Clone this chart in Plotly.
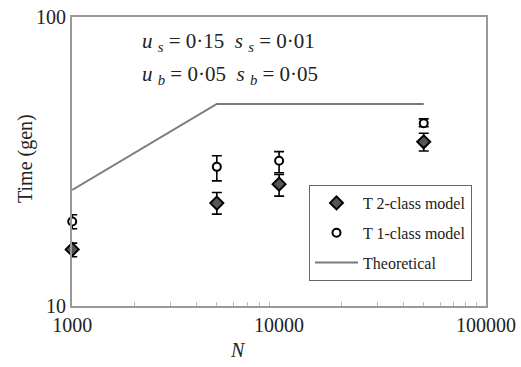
import plotly.graph_objects as go

# population sizes
N_vals = [1000, 5000, 10000, 50000]

# T 2-class model (diamonds)
t2_mean = [15.7, 22.7, 26.4, 37.0]
t2_hi = [16.5, 24.7, 28.5, 39.6]
t2_lo = [14.8, 20.8, 24.0, 34.4]

# T 1-class model (circles)
t1_mean = [19.6, 30.3, 31.8, 42.9]
t1_hi = [20.7, 33.1, 34.2, 44.4]
t1_lo = [18.5, 27.1, 28.9, 41.7]

# theoretical curve
theo_N = [1000, 5000, 50000]
theo_T = [25.2, 50, 50]

x_tickvals = [1000, 10000, 100000]
x_ticktext = ['1000', '10000', '100000']
y_tickvals = [10, 100]
y_ticktext = ['10', '100']
x_minor = [2000, 3000, 4000, 5000, 6000, 7000, 8000, 9000,
           20000, 30000, 40000, 50000, 60000, 70000, 80000, 90000]

FONT = 'Liberation Serif, Times New Roman, serif'
TXT = '#222'

W, H = 521, 367
L, T, R, B = 72, 17, 35, 61
PW, PH = W - L - R, H - T - B


def errs(mean, hi, lo):
    plus = [h - m for h, m in zip(hi, mean)]
    minus = [m - l for m, l in zip(mean, lo)]
    return plus, minus


def px(x, y):
    # reference pixel -> paper coords
    return (x - L) / PW, (H - B - y) / PH


fig = go.Figure()

fig.add_trace(go.Scatter(
    x=theo_N, y=theo_T, mode='lines', name='Theoretical',
    line=dict(color='#7a7a7a', width=2), legendgroup='c', legendrank=3,
    cliponaxis=False,
))

p2, m2 = errs(t2_mean, t2_hi, t2_lo)
fig.add_trace(go.Scatter(
    x=N_vals, y=t2_mean, mode='markers', name='T 2-class model',
    marker=dict(symbol='diamond', size=10, color='#555555',
                line=dict(color='black', width=2)),
    error_y=dict(type='data', symmetric=False, array=p2, arrayminus=m2,
                 color='black', thickness=1.6, width=5),
    legendgroup='a', legendrank=1, cliponaxis=False,
))

p1, m1 = errs(t1_mean, t1_hi, t1_lo)
fig.add_trace(go.Scatter(
    x=N_vals, y=t1_mean, mode='markers', name='T 1-class model',
    marker=dict(symbol='circle', size=8, color='white',
                line=dict(color='black', width=2)),
    error_y=dict(type='data', symmetric=False, array=p1, arrayminus=m1,
                 color='black', thickness=1.6, width=5),
    legendgroup='b', legendrank=2, cliponaxis=False,
))

lx, ly = px(309, 185)
a1x, a1y = px(140, 42)
a2x, a2y = px(140, 75)
nx, ny = px(238, 350)
tx, ty = px(25, 159)

SP = '&nbsp;'
line1 = ('<i>u</i>' + SP + '<sub><i>s</i></sub>' + SP + '= 0·15' + SP * 2 +
         '<i>s</i>' + SP + '<sub><i>s</i></sub>' + SP + '= 0·01')
line2 = ('<i>u</i>' + SP + '<sub><i>b</i></sub>' + SP + '= 0·05' + SP * 2 +
         '<i>s</i>' + SP + '<sub><i>b</i></sub>' + SP + '= 0·05')

fig.update_layout(
    width=W, height=H,
    margin=dict(l=L, r=R, t=T, b=B, autoexpand=False),
    paper_bgcolor='white', plot_bgcolor='white',
    font=dict(family=FONT, size=20, color=TXT),
    showlegend=True,
    legend=dict(
        x=lx, y=ly, xanchor='left', yanchor='top',
        bordercolor='#666', borderwidth=1, bgcolor='white',
        font=dict(family=FONT, size=16, color=TXT),
        traceorder='grouped', tracegroupgap=6, itemwidth=43,
    ),
    xaxis=dict(
        type='log', range=[2.999, 5], automargin=False,
        tickvals=x_tickvals, ticktext=x_ticktext, ticklabeloverflow='allow',
        showline=True, linecolor='#999', linewidth=2, mirror=True,
        showgrid=False, zeroline=False, ticks='',
        minor=dict(tickvals=x_minor, ticks='inside', ticklen=4,
                   tickcolor='#bbb', showgrid=False),
    ),
    yaxis=dict(
        type='log', range=[1, 2], automargin=False,
        tickvals=y_tickvals, ticktext=y_ticktext, ticklabeloverflow='allow',
        showline=True, linecolor='#999', linewidth=2, mirror=True,
        showgrid=False, zeroline=False, ticks='',
    ),
    annotations=[
        dict(text=line1, xref='paper', yref='paper', x=a1x, y=a1y,
             xanchor='left', yanchor='middle', showarrow=False,
             font=dict(family=FONT, size=21, color=TXT)),
        dict(text=line2, xref='paper', yref='paper', x=a2x, y=a2y,
             xanchor='left', yanchor='middle', showarrow=False,
             font=dict(family=FONT, size=21, color=TXT)),
        # axis titles
        dict(text='<i>N</i>', xref='paper', yref='paper', x=nx, y=ny,
             xanchor='center', yanchor='middle', showarrow=False,
             font=dict(family=FONT, size=20, color=TXT)),
        dict(text='Time (gen)', xref='paper', yref='paper', textangle=-90,
             x=tx, y=ty, xanchor='center', yanchor='middle', showarrow=False,
             font=dict(family=FONT, size=20, color=TXT)),
    ],
)

# drop the default 8px body margin so the figure fills the window
fig.write_html('out.html', config={'displayModeBar': False},
               post_script="document.body.style.margin='0';")
